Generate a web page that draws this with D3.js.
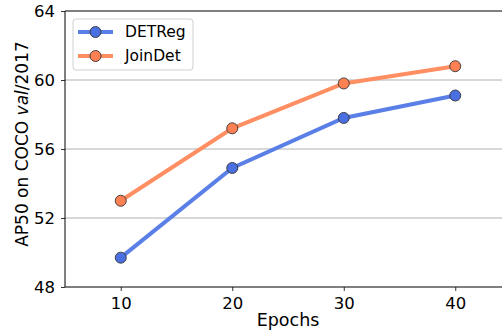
<!DOCTYPE html>
<html>
<head>
<meta charset="utf-8">
<script src="https://cdn.jsdelivr.net/npm/d3@7"></script>
<style>
  body { margin: 0; background: #fff; overflow: hidden; }
  svg { display: block; font-family: "DejaVu Sans", sans-serif; }
</style>
</head>
<body>
<svg id="chart" width="502" height="332"></svg>
<script>
// data
var epochs = [10, 20, 30, 40];
var detreg = [49.7, 54.9, 57.8, 59.1];
var joindet = [53.0, 57.2, 59.8, 60.8];
var yTicks = [48, 52, 56, 60, 64];
var seriesNames = ["DETReg", "JoinDet"];

var series = [
  { name: seriesNames[0], values: detreg, line: "#5a7fe6", dot: "#4a6fe0" },
  { name: seriesNames[1], values: joindet, line: "#ff8f62", dot: "#ff8052" }
];

var svg = d3.select("#chart");
// plot box (note: "top" is taken by window.top, so use pTop)
var pLeft = 65, pTop = 11, pBottom = 287, pRight = 511;

var x = d3.scaleLinear().domain([5, 45]).range([pLeft, pRight]);
var y = d3.scaleLinear().domain([48, 64]).range([pBottom, pTop]);

// grid
svg.append("g").selectAll("line")
  .data(yTicks.slice(1, -1))
  .join("line")
  .attr("x1", pLeft).attr("x2", pRight)
  .attr("y1", d => y(d)).attr("y2", d => y(d))
  .attr("stroke", "#b0b0b0").attr("stroke-width", 1);

// axes
var yAxis = svg.append("g")
  .attr("transform", "translate(" + pLeft + ",0)")
  .call(d3.axisLeft(y).tickValues(yTicks).tickSize(4).tickPadding(6));
var xAxis = svg.append("g")
  .attr("transform", "translate(0," + pBottom + ")")
  .call(d3.axisBottom(x).tickValues(epochs).tickSize(4).tickPadding(6));

[yAxis, xAxis].forEach(function(a) {
  a.select(".domain").remove();
  a.selectAll("text").attr("font-size", 16.5).attr("fill", "#000")
    .attr("font-family", "DejaVu Sans, sans-serif");
  a.selectAll("line").attr("stroke", "#000").attr("stroke-width", 0.8);
});

// spines
svg.append("line").attr("x1", pLeft).attr("x2", pLeft).attr("y1", pTop).attr("y2", pBottom)
  .attr("stroke", "#000").attr("stroke-width", 1);
svg.append("line").attr("x1", pLeft).attr("x2", pRight).attr("y1", pBottom).attr("y2", pBottom)
  .attr("stroke", "#000").attr("stroke-width", 1);
svg.append("line").attr("x1", pLeft).attr("x2", pRight).attr("y1", pTop).attr("y2", pTop)
  .attr("stroke", "#000").attr("stroke-width", 1);

// lines + markers
var line = d3.line().x((d, i) => x(epochs[i])).y(d => y(d));
series.forEach(function(s) {
  svg.append("path").datum(s.values)
    .attr("d", line)
    .attr("fill", "none")
    .attr("stroke", s.line)
    .attr("stroke-width", 4);
  svg.append("g").selectAll("circle")
    .data(s.values)
    .join("circle")
    .attr("cx", (d, i) => x(epochs[i]))
    .attr("cy", d => y(d))
    .attr("r", 5.5)
    .attr("fill", s.dot)
    .attr("stroke", "#333")
    .attr("stroke-width", 0.9);
});

// legend
var lg = svg.append("g").attr("transform", "translate(73,19)");
lg.append("rect").attr("width", 120).attr("height", 51).attr("rx", 3)
  .attr("fill", "#fff").attr("fill-opacity", 0.8)
  .attr("stroke", "#d0d0d0").attr("stroke-width", 1);
series.forEach(function(s, i) {
  var yy = 13 + i * 24;
  lg.append("line").attr("x1", 5).attr("x2", 40).attr("y1", yy).attr("y2", yy)
    .attr("stroke", s.line).attr("stroke-width", 4);
  lg.append("circle").attr("cx", 22.5).attr("cy", yy).attr("r", 5.5)
    .attr("fill", s.dot).attr("stroke", "#333").attr("stroke-width", 0.9);
  lg.append("text").attr("x", 52).attr("y", yy).attr("dy", "0.35em")
    .attr("font-size", 15.5).text(s.name);
});

// axis labels
svg.append("text")
  .attr("x", (pLeft + pRight) / 2).attr("y", 326)
  .attr("text-anchor", "middle")
  .attr("font-size", 17.5)
  .text("Epochs");

var yl = svg.append("text")
  .attr("transform", "translate(28,144) rotate(-90)")
  .attr("text-anchor", "middle")
  .attr("font-size", 17);
yl.append("tspan").text("AP50 on COCO ");
yl.append("tspan").attr("font-style", "italic").text("val");
yl.append("tspan").text("/2017");
</script>
</body>
</html>
